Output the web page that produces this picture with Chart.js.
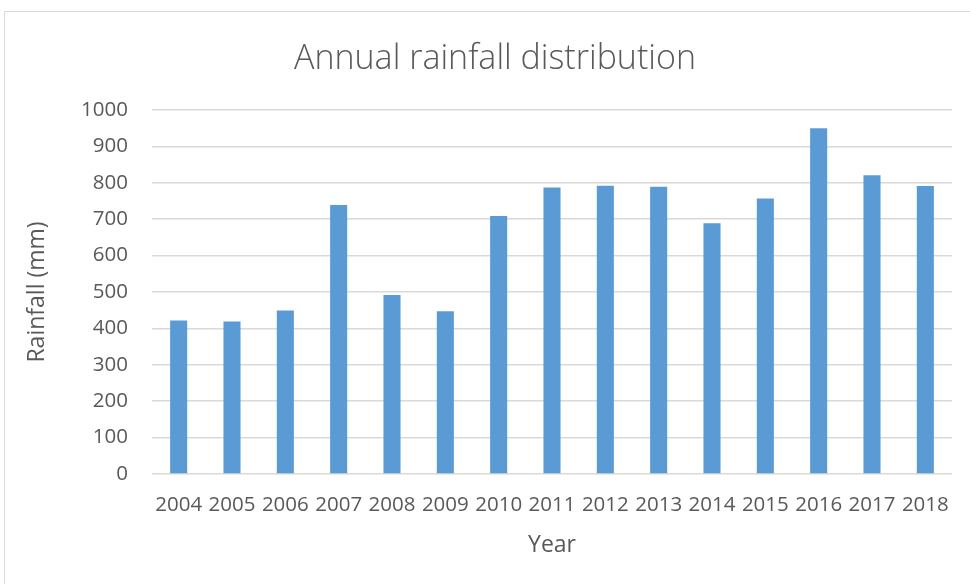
<!DOCTYPE html>
<html>
<head>
<meta charset="utf-8">
<script src="https://cdn.jsdelivr.net/npm/chart.js@4.4.1/dist/chart.umd.min.js"></script>
<style>
  html, body { margin: 0; padding: 0; background: #ffffff; overflow: hidden; }
  #wrap { position: relative; width: 970px; height: 584px; overflow: hidden; }
  #frame { position: absolute; left: 4px; top: 11px; width: 1100px; height: 1100px; border: 1px solid #d9d9d9; box-sizing: border-box; }
  #c { position: absolute; left: 0; top: 0; }
</style>
</head>
<body>
<div id="wrap">
  <div id="frame"></div>
  <canvas id="c" width="970" height="584"></canvas>
</div>
<script>
const years = ['2004','2005','2006','2007','2008','2009','2010','2011','2012','2013','2014','2015','2016','2017','2018'];
const rainfall = [422, 419, 449, 739, 492, 447, 709, 787, 792, 789, 689, 757, 950, 821, 791];
const yTicks = [0, 100, 200, 300, 400, 500, 600, 700, 800, 900, 1000];

const textColor = '#595959';
const gridColor = '#d9d9d9';
const baseFont = "'Open Sans', 'Liberation Sans', sans-serif";

new Chart(document.getElementById('c'), {
  type: 'bar',
  data: {
    labels: years,
    datasets: [{
      label: 'Rainfall (mm)',
      data: rainfall,
      backgroundColor: '#5b9bd5',
      borderWidth: 0,
      barPercentage: 0.32,
      categoryPercentage: 1.0
    }]
  },
  options: {
    responsive: false,
    animation: false,
    devicePixelRatio: 1,
    layout: { padding: { left: 38, right: 18, top: 0, bottom: 0 } },
    plugins: {
      legend: { display: false },
      tooltip: { enabled: false },
      title: {
        display: true,
        text: 'Annual rainfall distribution',
        color: textColor,
        font: { family: baseFont, size: 34, weight: '300', lineHeight: 1.2 },
        padding: { top: 38.6, bottom: 30.6 }
      }
    },
    scales: {
      x: {
        grid: { display: false },
        border: { display: false },
        ticks: {
          color: textColor,
          font: { family: baseFont, size: 20.5 },
          padding: 11,
          maxRotation: 0,
          autoSkip: false
        },
        title: {
          display: true,
          text: 'Year',
          color: textColor,
          font: { family: baseFont, size: 23, lineHeight: 1.2 },
          padding: { top: 0, bottom: 25.2 }
        },
        afterFit: (s) => { s.height = 110; }
      },
      y: {
        min: 0,
        max: 1000,
        afterBuildTicks: (s) => { s.ticks = yTicks.map(v => ({ value: v })); },
        grid: { color: gridColor, lineWidth: 1.5, drawTicks: false },
        border: { display: false },
        ticks: {
          color: textColor,
          font: { family: baseFont, size: 20.5 },
          padding: 24,
          callback: (v) => String(v)
        },
        title: {
          display: true,
          text: 'Rainfall (mm)',
          color: textColor,
          font: { family: baseFont, size: 23, lineHeight: 1.2 },
          padding: { top: -14.8, bottom: 0 }
        },
        afterFit: (s) => { s.width = 114; }
      }
    }
  }
});
</script>
</body>
</html>
